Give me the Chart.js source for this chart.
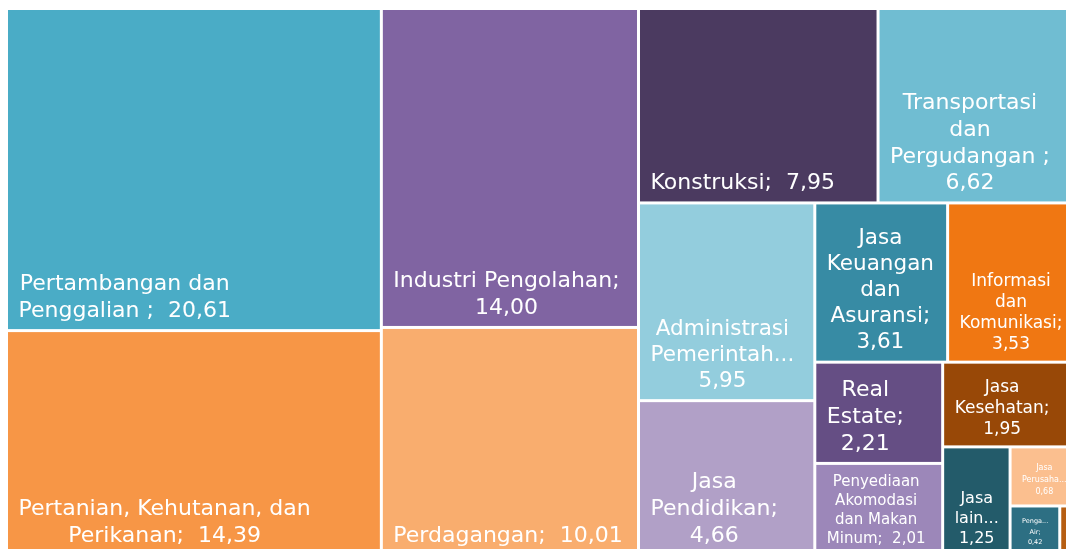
<!DOCTYPE html>
<html>
<head>
<meta charset="utf-8">
<script src="https://cdn.jsdelivr.net/npm/chart.js@4.4.0/dist/chart.umd.min.js"></script>
<style>
html, body { margin: 0; padding: 0; background: #fff; overflow: hidden; }
#wrap { width: 1080px; height: 558px; }
</style>
</head>
<body>
<div id="wrap"><canvas id="myChart" width="1080" height="558"></canvas></div>
<script>
// sector shares (%)
var categories = [
    'Pertambangan dan Penggalian ',
    'Pertanian, Kehutanan, dan Perikanan',
    'Industri Pengolahan',
    'Perdagangan',
    'Konstruksi',
    'Transportasi dan Pergudangan ',
    'Administrasi Pemerintahan',
    'Jasa Pendidikan',
    'Jasa Keuangan dan Asuransi',
    'Informasi dan Komunikasi',
    'Real Estate',
    'Penyediaan Akomodasi dan Makan Minum',
    'Jasa Kesehatan',
    'Jasa lainnya',
    'Jasa Perusahaan',
    'Pengadaan Air',
    'Pengadaan Listrik dan Gas'
]
var shares = [20.61, 14.39, 14.00, 10.01, 7.95, 6.62, 5.95, 4.66, 3.61, 3.53, 2.21, 2.01, 1.95, 1.25, 0.68, 0.42, 0.15]

// styles
var cellColors = ['#4AACC6', '#F79646', '#8064A2', '#F9AD6E', '#4B3A60', '#70BDD2', '#93CDDD', '#B1A0C7',
    '#378BA4', '#F07712', '#654E84', '#9C87B9', '#984807', '#235B6A', '#FBBF8F', '#2D6F83', '#B65E12']
var labelSizes = [22, 22, 22, 22, 22, 22, 21.5, 22, 21.5, 17, 22, 15, 17, 16, 8, 6.5, 8]

function fmt(v) {
    return v.toFixed(2).replace('.', ',')
}

// squarified treemap layout in scale units
function squarify(items, x, y, w, h) {
    var total = items.reduce(function (s, d) { return s + d.v }, 0)
    var k = w * h / total
    var queue = items.map(function (d) { return { i: d.i, a: d.v * k } })
    var rect = { x: x, y: y, w: w, h: h }
    var out = []
    var row = []

    function worst(r, side) {
        var s = 0, mx = 0, mn = Infinity
        r.forEach(function (d) { s += d.a; mx = Math.max(mx, d.a); mn = Math.min(mn, d.a) })
        return Math.max(side * side * mx / (s * s), (s * s) / (side * side * mn))
    }

    function layoutRow(r) {
        var s = r.reduce(function (a, d) { return a + d.a }, 0)
        if (rect.w >= rect.h) {
            var cw = s / rect.h, cy = rect.y
            r.forEach(function (d) {
                var ch = d.a / cw
                out.push({ i: d.i, x: rect.x, y: cy, w: cw, h: ch })
                cy += ch
            })
            rect.x += cw; rect.w -= cw
        } else {
            var rh = s / rect.w, cx = rect.x
            r.forEach(function (d) {
                var rw = d.a / rh
                out.push({ i: d.i, x: cx, y: rect.y, w: rw, h: rh })
                cx += rw
            })
            rect.y += rh; rect.h -= rh
        }
    }

    while (queue.length) {
        var side = Math.min(rect.w, rect.h)
        if (row.length == 0 || worst(row.concat([queue[0]]), side) <= worst(row, side)) {
            row.push(queue.shift())
        } else {
            layoutRow(row)
            row = []
        }
    }
    if (row.length) layoutRow(row)
    return out
}

function truncate(ctx, word, maxW) {
    if (ctx.measureText(word).width <= maxW) return word
    var w = word
    while (w.length > 1 && ctx.measureText(w + '...').width > maxW) w = w.slice(0, -1)
    return w + '...'
}

function wrap(ctx, text, maxW) {
    var re = /(\s*)(\S+)/g, m, lines = [], cur = ''
    while ((m = re.exec(text))) {
        var word = truncate(ctx, m[2], maxW)
        if (cur === '') cur = word
        else if (ctx.measureText(cur + m[1] + word).width <= maxW) cur += m[1] + word
        else { lines.push(cur); cur = word }
    }
    if (cur !== '') lines.push(cur)
    return lines
}

function drawLabel(ctx, text, size, l, t, r, b) {
    var pad = 10.5
    var maxW = Math.min(r - l - 2 * pad, 320)
    if (maxW < 12) return
    ctx.save()
    ctx.beginPath()
    ctx.rect(l, t, r - l, b - t)
    ctx.clip()
    ctx.font = size + 'px "DejaVu Sans"'
    ctx.fillStyle = '#ffffff'
    ctx.textAlign = 'center'
    ctx.textBaseline = 'alphabetic'
    var lines = wrap(ctx, text, maxW)
    var lh = Math.max(size * 1.21, size + 4)
    var boxW = 0
    lines.forEach(function (s) { boxW = Math.max(boxW, ctx.measureText(s).width) })
    var cx = l + pad + 1.5 + boxW / 2
    var base = b - (10.5 + 0.15 * size)
    for (var n = lines.length - 1; n >= 0; n--) {
        ctx.fillText(lines[n], cx, base - (lines.length - 1 - n) * lh)
    }
    ctx.restore()
}

var treemapPlugin = {
    id: 'treemapCells',
    afterDatasetsDraw: function (chart) {
        var xs = chart.scales.x, ys = chart.scales.y, ctx = chart.ctx
        var items = shares.map(function (v, i) { return { i: i, v: v } })
        items.sort(function (a, b) { return b.v - a.v })
        var cells = squarify(items, xs.min, ys.min, xs.max - xs.min, ys.max - ys.min)
        var gap = 1.5
        cells.forEach(function (c) {
            var l = xs.getPixelForValue(c.x), r = xs.getPixelForValue(c.x + c.w)
            var t = ys.getPixelForValue(c.y), b = ys.getPixelForValue(c.y + c.h)
            ctx.fillStyle = cellColors[c.i]
            ctx.fillRect(l + gap, t + gap, r - l - 2 * gap, b - t - 2 * gap)
            var label = categories[c.i] + ';  ' + fmt(shares[c.i])
            drawLabel(ctx, label, labelSizes[c.i], l, t, r, b)
        })
    }
}

let myChart = document.getElementById('myChart').getContext('2d')
let treeChart = new Chart(myChart, {
    type: 'scatter',
    data: {
        datasets: [{ label: 'PDRB', data: [] }]
    },
    options: {
        responsive: false,
        animation: false,
        layout: { padding: { left: 6.5, top: 8.5, right: 2.5, bottom: 2.5 } },
        scales: {
            x: { type: 'linear', min: 0, max: 1071, display: false },
            y: { type: 'linear', min: 0, max: 547, reverse: true, display: false }
        },
        plugins: {
            legend: { display: false },
            tooltip: { enabled: false }
        }
    },
    plugins: [treemapPlugin]
})
</script>
</body>
</html>
